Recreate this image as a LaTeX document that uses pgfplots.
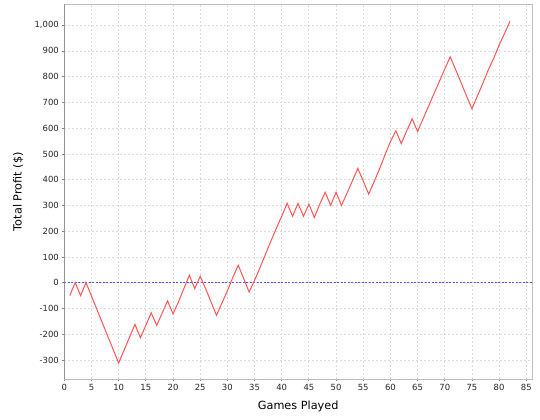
\documentclass[border=0pt]{standalone}
\usepackage{fontspec}
\setmainfont{DejaVu Sans}
\usepackage{pgfplots}
\pgfplotsset{compat=1.18}

\definecolor{profitred}{RGB}{255,85,85}
\definecolor{zeroblue}{RGB}{80,80,255}
\definecolor{gridgray}{RGB}{218,218,218}
\definecolor{axisgray}{RGB}{128,128,128}
\definecolor{boxgray}{RGB}{190,190,190}

\begin{document}
\begin{tikzpicture}
  \fill[white] (-64.3bp,-41bp) rectangle (475.7bp,379bp);
  \useasboundingbox (-64.3bp,-41bp) rectangle (475.7bp,379bp);
  \begin{axis}[
      at={(0,0)}, anchor=south west,
      scale only axis,
      width=467.7bp,
      height=374.7bp,
      xmin=0, xmax=86.05,
      ymin=-374, ymax=1081,
      xtick={0,5,...,85},
      ytick={-300,-200,...,1000},
      /pgf/number format/assume math mode=true,
      /pgf/number format/1000 sep={,},
      tick label style={font=\fontsize{8.5}{10}\selectfont, text=black!85},
      label style={font=\fontsize{11.3}{13}\selectfont},
      xlabel={Games Played},
      ylabel={Total Profit (\$)},
      xlabel style={at={(0.5,0)}, anchor=center, yshift=-27bp},
      ylabel style={at={(0,0.5)}, anchor=center, rotate=0, yshift=46bp},
      tick align=outside,
      major tick length=2bp,
      every tick/.style={axisgray, line width=0.8bp},
      xtick pos=bottom, ytick pos=left,
      grid=major,
      major grid style={gridgray, line width=0.8bp, dash pattern=on 2bp off 2bp},
      axis line style={boxgray, line width=0.8bp},
      clip=true,
  ]

  % zero line
  \addplot[zeroblue, line width=0.7bp, dash pattern=on 2bp off 1.5bp]
    coordinates {(0,0) (86.05,0)};

  % cumulative profit
  \addplot[profitred, line width=1bp] coordinates {
    (1,-50) (2,0) (3,-50) (4,0) (5,-52) (6,-104) (7,-156) (8,-208)
    (9,-260) (10,-312) (11,-262) (12,-212) (13,-162) (14,-214) (15,-165)
    (16,-117) (17,-166) (18,-118) (19,-71) (20,-121) (21,-75) (22,-23)
    (23,29) (24,-23) (25,25) (26,-23) (27,-75) (28,-127) (29,-79) (30,-32)
    (31,20) (32,68) (33,16) (34,-36) (35,9) (36,58) (37,110) (38,161)
    (39,210) (40,258) (41,308) (42,258) (43,308) (44,258) (45,305) (46,253)
    (47,305) (48,351) (49,300) (50,351) (51,300) (52,347) (53,395) (54,444)
    (55,395) (56,344) (57,392) (58,442) (59,496) (60,548) (61,590) (62,540)
    (63,590) (64,636) (65,587) (66,636) (67,684) (68,733) (69,781) (70,830)
    (71,877) (72,827) (73,777) (74,725) (75,675) (76,725) (77,774) (78,826)
    (79,871) (80,923) (81,968) (82,1015)
  };

  % darker left and bottom axis lines
  \draw[axisgray, line width=1bp] (rel axis cs:0,1) -- (rel axis cs:0,0) -- (rel axis cs:1,0);
  \end{axis}
\end{tikzpicture}
\end{document}
